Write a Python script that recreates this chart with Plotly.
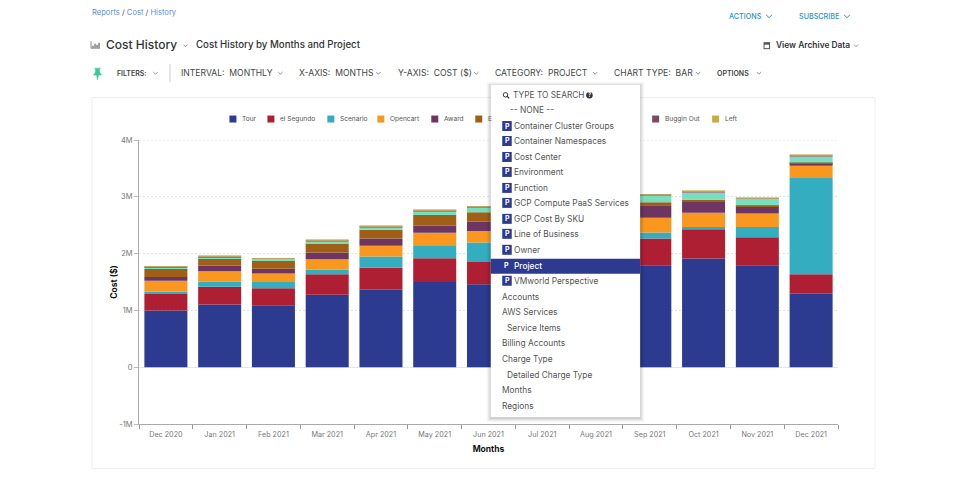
import plotly.graph_objects as go

W, H = 965, 483
FONT = "Inter"
PLOT_L, PLOT_R, PLOT_T, PLOT_B = 138.5, 838, 140, 424.5

months = ["Dec 2020", "Jan 2021", "Feb 2021", "Mar 2021", "Apr 2021", "May 2021", "Jun 2021",
          "Jul 2021", "Aug 2021", "Sep 2021", "Oct 2021", "Nov 2021", "Dec 2021"]

tour = [1.00, 1.105, 1.09, 1.276, 1.365, 1.50, 1.459, 1.55, 1.70, 1.794, 1.912, 1.794, 1.294]
el_segundo = [.29, .312, .30, .359, .385, .42, .394, .41, .45, .471, .518, .494, .341]
scenario = [.04, .093, .11, .085, .197, .227, .341, .30, .15, .105, .04, .182, 1.695]
opencart = [.19, .18, .15, .18, .193, .218, .206, .22, .25, .26, .25, .236, .217]
award = [.07, .10, .085, .12, .125, .129, .16, .17, .20, .223, .20, .129, .047]
e_series = [.14, .12, .14, .16, .155, .186, .17, .12, .08, .053, .03, .018, .012]
hidden = [.02, .03, .03, .03, .04, .06, .08, .09, .10, .114, .12, .112, .10]
buggin_out = [.015, .01, .008, .015, .015, .015, .012, .015, .015, .014, .018, .012, .017]
left = [.015, .01, .007, .015, .015, .015, .013, .015, .015, .013, .017, .011, .017]

series = [("Tour", tour, "#2c3a8f"), ("el Segundo", el_segundo, "#ae1f33"), ("Scenario", scenario, "#33adbf"),
          ("Opencart", opencart, "#f9971e"), ("Award", award, "#6e3560"), ("E", e_series, "#a05f16"),
          ("", hidden, "#75dfc0"), ("Buggin Out", buggin_out, "#7d4a63"), ("Left", left, "#c9ab3e")]

y_ticks = [-1, 0, 1, 2, 3, 4]
y_labels = ["-1M", "0", "1M", "2M", "3M", "4M"]

# legend entries sit where the page puts them, the hidden ones are behind the menu
legend_x = {"Tour": 229, "el Segundo": 267, "Scenario": 327, "Opencart": 377, "Award": 431,
            "E": 475, "Buggin Out": 652, "Left": 712}

menu_rows = [("Container Cluster Groups", 126, "p"), ("Container Namespaces", 141, "p"), ("Cost Center", 157, "p"),
             ("Environment", 172, "p"), ("Function", 188, "p"), ("GCP Compute PaaS Services", 203, "p"),
             ("GCP Cost By SKU", 219, "p"), ("Line of Business", 234, "p"), ("Owner", 250, "p"),
             ("Project", 266, "sel"), ("VMworld Perspective", 281, "p"), ("Accounts", 297, ""),
             ("AWS Services", 312, ""), ("Service Items", 328, "sub"), ("Billing Accounts", 343, ""),
             ("Charge Type", 359, ""), ("Detailed Charge Type", 375, "sub"), ("Months", 390, ""), ("Regions", 406, "")]

toolbar = [("INTERVAL:  MONTHLY", 181, 280), ("X-AXIS:  MONTHS", 299, 378), ("Y-AXIS:  COST ($)", 398, 476),
           ("CATEGORY:  PROJECT", 495, 595), ("CHART TYPE:  BAR", 614, 698)]

fig = go.Figure()
for name, vals, color in series:
    # the two thin top slices read as one pale tan band in the reference
    fig.add_bar(x=months, y=[v * 1e6 for v in vals], name=name, marker_color=color,
                marker_line_width=0, showlegend=False, opacity=0.6 if name in ("Buggin Out", "Left") else 1)


# page pixels to paper coords, paper is the plot area
def px(x):
    return (x - PLOT_L) / (PLOT_R - PLOT_L)


def py(y):
    return (PLOT_B - y) / (PLOT_B - PLOT_T)


shapes = []
notes = []


def rect(x0, y0, x1, y1, fill="rgba(0,0,0,0)", line=None, width=1):
    shapes.append(dict(type="rect", xref="paper", yref="paper", x0=px(x0), x1=px(x1), y0=py(y0), y1=py(y1),
                       fillcolor=fill, line=dict(color=line or "rgba(0,0,0,0)", width=width if line else 0)))


def path(points, color="#666", width=1, fill=None, close=False):
    d = "M" + "L".join(f"{px(a):.5f},{py(b):.5f}" for a, b in points) + ("Z" if close else "")
    shapes.append(dict(type="path", xref="paper", yref="paper", path=d, fillcolor=fill,
                       line=dict(color=color, width=width)))


def chevron(x, y, size=2.2, color="#777", width=0.8):
    path([(x - size, y - size / 2), (x, y + size / 2), (x + size, y - size / 2)], color, width)


def text(s, x, y, size=8, color="#444", anchor="left", weight=None):
    # annotations sit about a pixel right of the asked position
    notes.append(dict(text=s, x=px(x - 1), y=py(y), xref="paper", yref="paper", xanchor=anchor, yanchor="middle",
                      showarrow=False, borderpad=0, align="left",
                      font=dict(family=FONT, size=size, color=color, weight=weight)))


# card behind the chart
rect(91.5, 97.5, 875, 469, line="#eeeeee")

# the 4M line is dropped by plotly at the top edge of the range
shapes.append(dict(type="line", xref="paper", yref="y", x0=0, x1=1, y0=y_ticks[-1] * 1e6, y1=y_ticks[-1] * 1e6,
                   line=dict(color="#e2e2e2", width=1, dash="2px,2px")))

# header
blue = "#5b8fd0"
text(f'<span style="color:{blue}">Reports</span> / <span style="color:{blue}">Cost</span> / '
     f'<span style="color:{blue}">History</span>', 91, 12, 7.6, "#555")
text("ACTIONS", 729, 16, 7.2, "#2b93c4", weight=500)
chevron(769, 16, 3, "#2b93c4", 1)
text("SUBSCRIBE", 799, 16, 7.2, "#2b93c4", weight=500)
chevron(847, 16, 3, "#2b93c4", 1)

# bar chart icon next to the title
path([(90.5, 41), (90.5, 48), (99.5, 48)], "#555", 0.7)
for bx, top in [(92.5, 45.5), (94.5, 43.5), (96.5, 44.5), (98.5, 42.5)]:
    path([(bx, 47.5), (bx, top)], "#555", 1.1)
text("Cost History", 105, 44, 12, "#333", weight=500)
chevron(185, 45.5, 2)
text("Cost History by Months and Project", 196, 44.5, 9.7, "#333", weight=500)

# calendar icon
rect(763.5, 42, 770, 49, fill="#555")
rect(764.5, 44.5, 769, 48, fill="#fff")
text("View Archive Data", 776, 45, 8.4, "#333", weight=600)
chevron(856, 45.5, 2)

# filter row
path([(94, 68), (100, 68), (99, 69), (99, 72), (101, 75), (98, 75), (97, 80), (96, 75), (93, 75),
      (95, 72), (95, 69)], "#3fc79a", 0.5, "#3fc79a", True)
text("FILTERS:", 116, 73, 7, "#444", weight=600)
chevron(155, 73)
path([(169.5, 64), (169.5, 82)], "#cccccc", 1)
for label, lx, cx in toolbar:
    text(label, lx, 73, 8.6, "#444")
    chevron(cx, 73)
text("OPTIONS", 717, 73, 7, "#444", weight=600)
chevron(759, 73)

# legend
colors = {n: c for n, _, c in series}
for name, lx in legend_x.items():
    rect(lx, 115.5, lx + 7, 122.5, fill=colors[name])
    text(name, lx + 13, 119, 6.6, "#555")

# category menu over the chart
for grow, alpha in [(4, .03), (3, .04), (2, .05), (1, .07)]:
    rect(490.5 - grow, 85 - grow + 1, 640 + grow, 417.5 + grow + 1, fill=f"rgba(0,0,0,{alpha})")
rect(490.5, 85, 640, 417.5, fill="#ffffff")

shapes.append(dict(type="circle", xref="paper", yref="paper", x0=px(503), x1=px(507.5), y0=py(92.5), y1=py(97),
                   line=dict(color="#333", width=1)))
path([(506.8, 96.2), (509, 98.3)], "#333", 1.2)
text("TYPE TO SEARCH", 513, 95, 8.35, "#555")
shapes.append(dict(type="circle", xref="paper", yref="paper", x0=px(586), x1=px(592.5), y0=py(92), y1=py(98.5),
                   fillcolor="#333", line=dict(width=0)))
text("?", 590.2, 95.2, 5.5, "#fff", "center", 700)
text("-- NONE --", 510, 110, 8.35, "#555")

for label, ry, kind in menu_rows:
    if kind == "sel":
        rect(490.5, 259, 640, 274, fill="#2c3a8f")
        text("P", 507.5, ry, 7, "#fff", "center", 700)
        text(label, 514, ry, 8.35, "#fff", weight=500)
    elif kind == "p":
        rect(502, ry - 5, 511.5, ry + 5, fill="#2c3a8f")
        text("P", 507.8, ry, 7, "#fff", "center", 700)
        text(label, 514, ry, 8.35, "#555")
    elif kind == "sub":
        text(label, 507, ry, 8.35, "#555")
    else:
        text(label, 502, ry, 8.35, "#555")

fig.update_layout(
    barmode="relative",
    bargap=0.2,
    width=W,
    height=H,
    margin=dict(l=PLOT_L, r=W - PLOT_R, t=PLOT_T, b=H - PLOT_B),
    plot_bgcolor="#ffffff",
    paper_bgcolor="#ffffff",
    font=dict(family=FONT, size=7.5, color="#666"),
    shapes=shapes,
    annotations=notes,
)
fig.update_xaxes(
    type="category",
    categoryorder="array",
    categoryarray=months,
    tickson="boundaries",
    ticks="outside",
    ticklen=4,
    tickcolor="#999",
    ticklabelstandoff=3,
    showline=True,
    linecolor="#aaaaaa",
    linewidth=1,
    showgrid=False,
    tickfont=dict(size=7.2, color="#777"),
    title=dict(text="<b>Months</b>", font=dict(size=8.5, color="#111"), standoff=8),
)
fig.update_yaxes(
    range=[-1e6, 4e6],
    tickvals=[v * 1e6 for v in y_ticks],
    ticktext=y_labels,
    ticks="outside",
    ticklen=4,
    tickcolor="#bbb",
    showline=True,
    linecolor="#aaaaaa",
    linewidth=1,
    gridcolor="#e2e2e2",
    griddash="2px,2px",
    gridwidth=1,
    zeroline=True,
    zerolinecolor="#e6e6e6",
    zerolinewidth=1,
    tickfont=dict(size=7.5, color="#777"),
    title=dict(text="<b>Cost ($)</b>", font=dict(size=8.5, color="#111"), standoff=0),
)

fig.write_html("out.html", config=dict(displayModeBar=False), post_script="document.body.style.margin='0';")
